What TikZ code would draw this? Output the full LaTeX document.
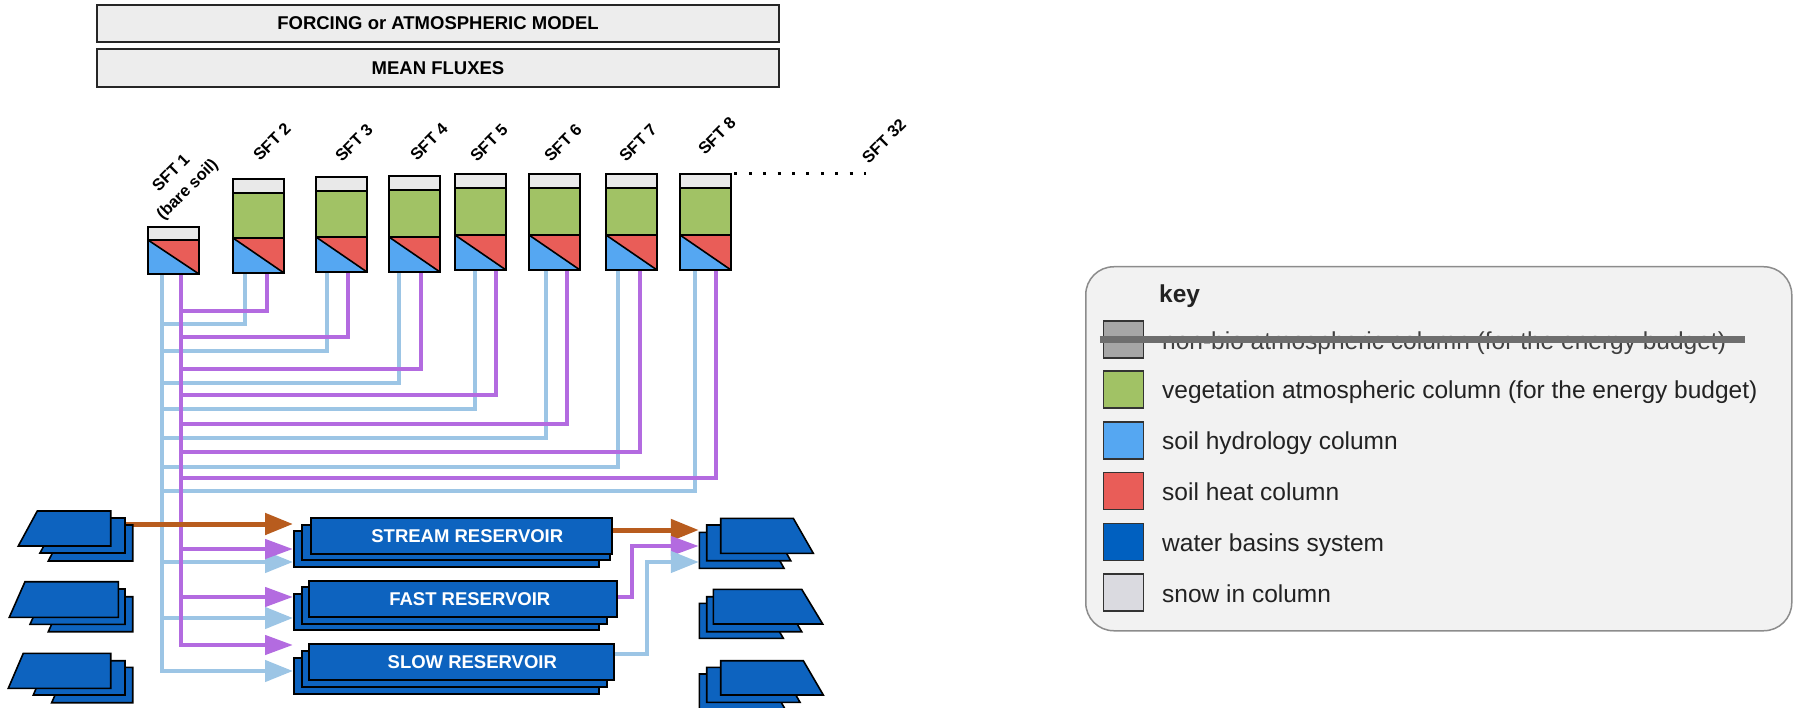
\documentclass[tikz,border=0pt]{standalone}
\usepackage{fontspec}
\setmainfont{Liberation Sans}
\usetikzlibrary{arrows.meta,calc}
\pgfdeclarelayer{back}
\pgfsetlayers{back,main}
\definecolor{snowc}{HTML}{E9E9E9}
\definecolor{vegc}{HTML}{A1C265}
\definecolor{heatc}{HTML}{E95D58}
\definecolor{hydc}{HTML}{55A7F2}
\definecolor{basinc}{HTML}{0D63BF}
\definecolor{lblue}{HTML}{9CC5E5}
\definecolor{purp}{HTML}{B36BE0}
\definecolor{orng}{HTML}{B85C1E}
\definecolor{keybg}{HTML}{F2F2F2}
\definecolor{keyedge}{HTML}{8C8C8C}
\definecolor{topfill}{HTML}{EDEDED}
\definecolor{nonbioc}{HTML}{A6A6A6}
\definecolor{keysnow}{HTML}{DADAE0}
\definecolor{keywater}{HTML}{0060C0}
\definecolor{strikec}{HTML}{6E6E6E}
\definecolor{keytxt}{HTML}{222222}
\newcommand\lbasinshape[5]{\draw[basin] (#1,#4) -- (#3,#4) -- (#3,#5) -- (#2,#5) -- cycle;}
\newcommand\rbasinshape[5]{\draw[basin] (#1,#4) -- (#2,#4) -- (#3,#5) -- (#1,#5) -- cycle;}
\begin{document}
\begin{tikzpicture}[x=1pt,y=-1pt,
  topbox/.style={draw=black!85, fill=topfill, line width=1.3pt, minimum width=682pt, inner sep=0pt, font=\fontsize{18.5}{22}\selectfont\bfseries},
  outline/.style={draw=black, line width=1.6pt},
  colnode/.style={inner sep=0pt, minimum width=51pt, anchor=north west},
  sftlabel/.style={rotate=45, inner sep=0pt, font=\fontsize{16.5}{23}\selectfont\bfseries},
  hydline/.style={draw=lblue, line width=4.5pt},
  heatline/.style={draw=purp, line width=4.5pt},
  hydarrow/.style={hydline, -{Triangle[length=28pt,width=21pt]}},
  heatarrow/.style={heatline, -{Triangle[length=28pt,width=19pt]}},
  runarrow/.style={draw=orng, line width=5pt, -{Triangle[length=28pt,width=21pt]}},
  basin/.style={draw=black, fill=basinc, line width=1.6pt, line join=miter},
  resbox/.style={draw=black, fill=basinc, line width=1.6pt, inner sep=0pt, anchor=north west},
  restext/.style={text=white, font=\fontsize{18.5}{22}\selectfont\bfseries},
  ghost/.style={inner sep=0pt, draw=none},
  swatch/.style={draw=black!80, line width=1.6pt, minimum width=40pt, minimum height=37pt, inner sep=0pt},
  keytext/.style={anchor=base west, inner sep=0pt, text=keytxt, font=\fontsize{24.5}{29}\selectfont}
]
\useasboundingbox (0,0) rectangle (1793,708);

% ---- top boxes
\node[topbox, minimum height=37pt] (forcing) at (438,23.5) {FORCING or ATMOSPHERIC MODEL};
\node[topbox, minimum height=38pt] (mean) at (438,68) {MEAN FLUXES};

% ---- SFT 1 (bare soil)
\node[colnode, minimum height=47pt] (sft1) at (148,227) {};
\fill[snowc] (148,227) rectangle (199,240);
\fill[heatc] (148,240) -- (199,240) -- (199,274) -- cycle;
\fill[hydc] (148,240) -- (199,274) -- (148,274) -- cycle;
\draw[outline] (148,227) rectangle (199,274);
\draw[outline] (148,240) -- (199,240);
\draw[outline] (148,240) -- (199,274);
\node[sftlabel, align=center] (lab1) at (180,182) {SFT 1\\(bare soil)};

% ---- SFT 2..8
\foreach \n/\x/\t/\b in {2/233/179/273,3/316/177/272,4/389/176/272,5/455/174/270,6/529/174/270,7/606/174/270,8/680/174/270}{
  \pgfmathsetmacro\h{\b-\t}
  \node[colnode, minimum height=\h pt] (sft\n) at (\x,\t) {};
  \fill[snowc] (\x,\t) rectangle ({\x+51},{\t+14});
  \fill[vegc] (\x,{\t+14}) rectangle ({\x+51},{\b-35});
  \fill[heatc] (\x,{\b-35}) -- ({\x+51},{\b-35}) -- ({\x+51},\b) -- cycle;
  \fill[hydc] (\x,{\b-35}) -- ({\x+51},\b) -- (\x,\b) -- cycle;
  \draw[outline] (\x,\t) rectangle ({\x+51},\b);
  \draw[outline] (\x,{\t+14}) -- ({\x+51},{\t+14});
  \draw[outline] (\x,{\b-35}) -- ({\x+51},{\b-35});
  \draw[outline] (\x,{\b-35}) -- ({\x+51},\b);
}
\foreach \n/\lx/\ly in {2/272/142,3/354/143,4/429/142,5/489/143,6/563/143,7/638/143,8/717/136}{
  \node[sftlabel] (lab\n) at (\lx,\ly) {SFT \n};
}
\node[sftlabel] (lab32) at (884,141) {SFT 32};
\coordinate (dotsend) at (866,174);
\draw[line width=3pt, dash pattern=on 3pt off 11.4pt] ($(sft8.north east)+(3,0)$) -- (dotsend);

% ---- reservoirs
\node[resbox, minimum width=305pt, minimum height=36pt] (stream3) at (293,530) {};
\node[resbox, minimum width=308pt, minimum height=35pt] (stream2) at (301,524) {};
\node[resbox, minimum width=301pt, minimum height=36pt, restext] (stream1) at (310,517) {\hspace*{12pt}STREAM RESERVOIR};
\node[resbox, minimum width=305pt, minimum height=36pt] (fast3) at (293,593) {};
\node[resbox, minimum width=305pt, minimum height=37pt] (fast2) at (301,586) {};
\node[resbox, minimum width=308pt, minimum height=36pt, restext] (fast1) at (308,580) {\hspace*{14pt}FAST RESERVOIR};
\node[resbox, minimum width=305pt, minimum height=36pt] (slow3) at (293,657) {};
\node[resbox, minimum width=305pt, minimum height=36pt] (slow2) at (301,650) {};
\node[resbox, minimum width=305pt, minimum height=36pt, restext] (slow1) at (308,643) {\hspace*{22pt}SLOW RESERVOIR};

% ---- water basins (left)
\node[ghost, minimum width=125pt, minimum height=50pt] (lbasin1) at (70,536) {};
\node[ghost, minimum width=125pt, minimum height=50pt] (lbasin2) at (70,606) {};
\node[ghost, minimum width=125pt, minimum height=50pt] (lbasin3) at (70,678) {};
\lbasinshape{67}{48.3}{132.7}{525}{561}
\lbasinshape{59}{40}{125}{518}{553}
\lbasinshape{37.3}{18.3}{110.7}{511}{546}
\lbasinshape{64}{48.3}{132.7}{596.7}{631.7}
\lbasinshape{46}{30}{125}{589}{624.3}
\lbasinshape{25}{9.3}{118.3}{581.7}{617.3}
\lbasinshape{67}{51.7}{132.7}{667.3}{702.7}
\lbasinshape{48}{33.3}{125}{660.7}{695}
\lbasinshape{23.3}{8.3}{110.7}{653.3}{688.3}

% ---- water basins (right)
\node[ghost, minimum width=124pt, minimum height=50pt] (rbasin1) at (761,543) {};
\node[ghost, minimum width=124pt, minimum height=50pt] (rbasin2) at (761,614) {};
\node[ghost, minimum width=124pt, minimum height=50pt] (rbasin3) at (761,685) {};
\rbasinshape{699.3}{764}{784}{532.3}{568.3}
\rbasinshape{706.7}{770.7}{790.7}{525}{560.7}
\rbasinshape{720.7}{793.3}{813.3}{518.3}{553.3}
\rbasinshape{699.3}{763}{783.3}{603.3}{638.3}
\rbasinshape{706.7}{781}{801.7}{596.7}{631.7}
\rbasinshape{713.3}{801.7}{822.7}{589.3}{624}
\rbasinshape{699.3}{765}{785}{674}{709}
\rbasinshape{706.7}{780}{800}{667.3}{702.3}
\rbasinshape{720.7}{803.3}{823.3}{660.7}{695}

% ---- connectors (behind)
\begin{pgfonlayer}{back}
  % soil hydrology (light blue)
  \foreach \n/\hx/\yb in {2/245/324,3/327/351,4/399/383,5/475/409,6/546/438,7/618/467,8/695/491}{
    \coordinate (hj\n) at (162,\yb);
    \draw[hydline] (\hx,0 |- sft\n.south) |- (hj\n);
  }
  \draw[hydarrow] (162,0 |- sft1.south) |- (slow3.west |- 0,671);
  \coordinate (hs) at (162,562);
  \coordinate (hf) at (162,618);
  \draw[hydarrow] (hs) -- (stream3.west |- hs);
  \draw[hydarrow] (hf) -- (fast3.west |- hf);
  % soil heat (purple)
  \foreach \n/\px/\yp in {2/267/311,3/348/337,4/421/369,5/496/395,6/567/424,7/640/452,8/716/478}{
    \coordinate (pj\n) at (181,\yp);
    \draw[heatline] (\px,0 |- sft\n.south) |- (pj\n);
  }
  \draw[heatarrow] (181,0 |- sft1.south) |- (slow3.west |- 0,645);
  \coordinate (ps) at (181,549);
  \coordinate (pf) at (181,597);
  \draw[heatarrow] (ps) -- (stream3.west |- ps);
  \draw[heatarrow] (pf) -- (fast3.west |- pf);
  % runoff (orange)
  \draw[runarrow] (lbasin1.center |- 0,524) -- (stream3.west |- 0,524);
  \draw[runarrow] (stream1.east |- 0,530) -- (rbasin1.west |- 0,530);
  % outflows
  \draw[heatarrow] (fast1.east |- 0,597) -- (632,597) |- (rbasin1.west |- 0,546);
  \draw[hydarrow] (slow1.east |- 0,654) -- (647,654) |- (rbasin1.west |- 0,562);
\end{pgfonlayer}

% ---- key
\node[draw=keyedge, fill=keybg, rounded corners=28pt, line width=1.5pt, minimum width=706pt, minimum height=364pt, inner sep=0pt, anchor=north west] (keybox) at (1085,266) {};
\node[anchor=base west, inner sep=0pt, text=keytxt, font=\fontsize{24.5}{29}\selectfont\bfseries] (keytitle) at (1159,302.7) {key};
\node[swatch, fill=nonbioc] (sw1) at (1123.6,339.7) {};
\node[swatch, fill=vegc] (sw2) at (1123.6,389.2) {};
\node[swatch, fill=hydc] (sw3) at (1123.6,440.2) {};
\node[swatch, fill=heatc] (sw4) at (1123.6,491) {};
\node[swatch, fill=keywater] (sw5) at (1123.6,541.9) {};
\node[swatch, fill=keysnow] (sw6) at (1123.6,592.5) {};
\node[keytext, text=black!75] (kt1) at (1162,349.2) {non-bio atmospheric column (for the energy budget)};
\node[keytext] (kt2) at (1162,398.7) {vegetation atmospheric column (for the energy budget)};
\node[keytext] (kt3) at (1162,449.7) {soil hydrology column};
\node[keytext] (kt4) at (1162,500.5) {soil heat column};
\node[keytext] (kt5) at (1162,551.4) {water basins system};
\node[keytext] (kt6) at (1162,602) {snow in column};
\coordinate (strikeend) at (1745,339.3);
\draw[draw=strikec, line width=7pt] (sw1.west |- strikeend) ++(-3,0) -- (strikeend);
\end{tikzpicture}
\end{document}
